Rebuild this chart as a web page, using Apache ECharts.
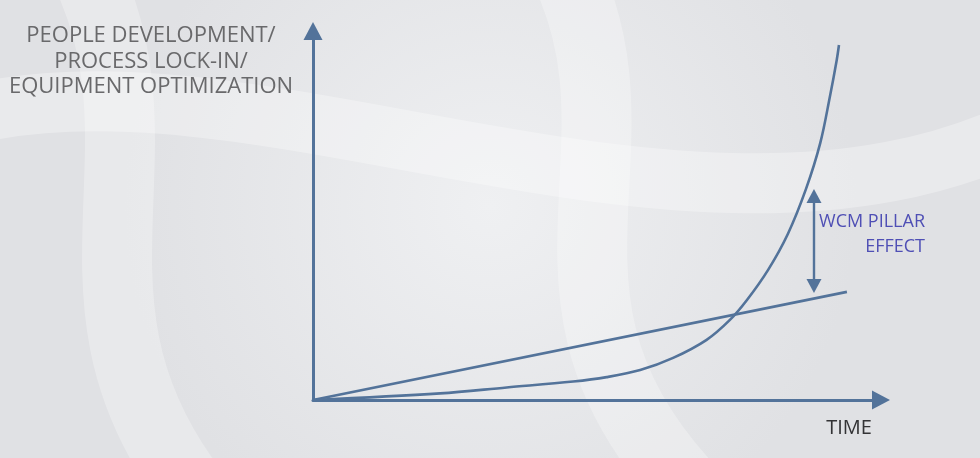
<!DOCTYPE html>
<html>
<head>
<meta charset="utf-8">
<script src="https://cdn.jsdelivr.net/npm/echarts@6/dist/echarts.min.js"></script>
<style>
html,body{margin:0;padding:0;background:#e7e8ea;}
#c{width:980px;height:458px;}
</style>
</head>
<body>
<div id="c"></div>
<script>
// data (x: time 0..100, y: level 0..100)
var linearX = [0, 94];
var linearY = [0, 29.3];
var curveX = [0, 22.4, 34.1, 45.8, 51.7, 57.6, 63.4, 69.3, 73.4, 76.4, 80.1, 83.6, 86.8, 89.3, 91.0, 92.2, 92.6];
var curveY = [0, 1.8, 3.4, 5.0, 6.2, 8.1, 11.4, 16.3, 21.7, 27.1, 35.2, 45.0, 57.2, 69.6, 82.2, 92.1, 96.2];
var gapX = 88.2;
var gapY = [30.9, 55.3];
var yTitle = ['PEOPLE DEVELOPMENT/', 'PROCESS LOCK-IN/', 'EQUIPMENT OPTIMIZATION'];
var xTitle = 'TIME';
var effectLabel = ['WCM PILLAR', 'EFFECT'];

function pairs(xs, ys){ return xs.map(function(x,i){ return [x, ys[i]]; }); }

var axisColor = '#53739a';
var chart = echarts.init(document.getElementById('c'), null, {renderer:'canvas'});
chart.setOption({
  backgroundColor: {
    type:'radial', x:0.5, y:0.45, r:0.8,
    colorStops:[{offset:0,color:'#eff0f2'},{offset:1,color:'#e0e1e4'}]
  },
  animation:false,
  grid:{left:313, right:99, top:31, bottom:58},
  xAxis:{type:'value', min:0, max:100, show:true,
    axisLine:{show:true, onZero:false, symbol:['none','triangle'], symbolSize:[19,18], lineStyle:{color:axisColor,width:3}},
    axisTick:{show:false}, axisLabel:{show:false}, splitLine:{show:false}},
  yAxis:{type:'value', min:0, max:100,
    axisLine:{show:true, onZero:false, symbol:['none','triangle'], symbolSize:[19,18], lineStyle:{color:axisColor,width:3}},
    axisTick:{show:false}, axisLabel:{show:false}, splitLine:{show:false}},
  graphic:[
    {type:'bezierCurve', silent:true, z:-10, shape:{x1:-50,y1:120,cpx1:250,cpy1:30,cpx2:700,cpy2:300,x2:1040,y2:120}, style:{fill:'none', stroke:'rgba(255,255,255,0.3)', lineWidth:60}},
    {type:'bezierCurve', silent:true, z:-10, shape:{x1:80,y1:-40,cpx1:180,cpy1:150,cpx2:40,cpy2:300,x2:200,y2:500}, style:{fill:'none', stroke:'rgba(255,255,255,0.28)', lineWidth:70}},
    {type:'bezierCurve', silent:true, z:-10, shape:{x1:560,y1:-40,cpx1:660,cpy1:150,cpx2:500,cpy2:300,x2:700,y2:500}, style:{fill:'none', stroke:'rgba(255,255,255,0.28)', lineWidth:70}},
    {type:'text', x:151, y:23, style:{text:yTitle.join('\n'), fill:'#69696b', font:'22px "Open Sans", sans-serif', align:'center', lineHeight:25.5}},
    {type:'text', x:849, y:418, style:{text:xTitle, fill:'#333335', font:'20px "Open Sans", sans-serif', align:'center'}},
    {type:'text', x:925, y:209, style:{text:effectLabel.join('\n'), fill:'#4f4fb5', font:'18px "Open Sans", sans-serif', align:'right', lineHeight:25.5}}
  ],
  series:[
    {type:'line', data:pairs(linearX, linearY), symbol:'none', lineStyle:{color:axisColor, width:2.6}},
    {type:'line', data:pairs(curveX, curveY), symbol:'none', smooth:0.35, lineStyle:{color:axisColor, width:2.6}},
    {type:'line', data:[], symbol:'none',
      markLine:{silent:true, symbol:['triangle','triangle'], symbolSize:[15,14], label:{show:false},
        lineStyle:{color:axisColor, width:2.4, type:'solid'},
        data:[[{coord:[gapX, gapY[0]]},{coord:[gapX, gapY[1]]}]]}}
  ]
});
</script>
</body>
</html>
